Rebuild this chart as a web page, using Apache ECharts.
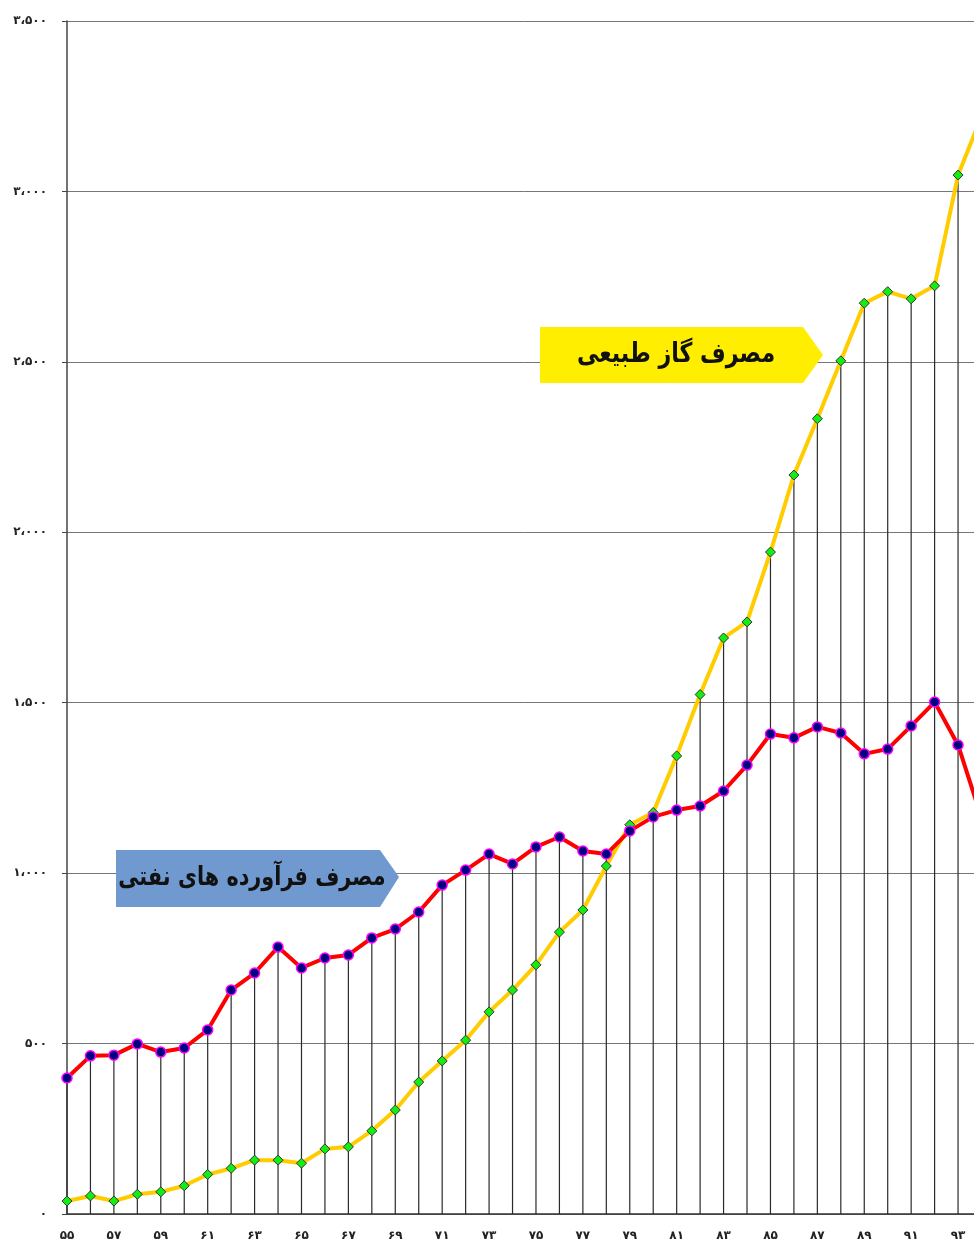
<!DOCTYPE html>
<html><head><meta charset="utf-8">
<script src="https://cdn.jsdelivr.net/npm/echarts@6/dist/echarts.min.js"></script>
<style>html,body{margin:0;padding:0;background:#fff;overflow:hidden;width:974px;height:1243px}#c{width:1000px;height:1243px}</style>
</head><body><div id="c"></div>
<script>
var years = [55,56,57,58,59,60,61,62,63,64,65,66,67,68,69,70,71,72,73,74,75,76,77,78,79,80,81,82,83,84,85,86,87,88,89,90,91,92,93,94];
var oilProducts = [399,464,466,499,475,487,540,657,707,783,722,751,760,810,836,886,965,1009,1056,1027,1077,1106,1065,1056,1124,1165,1185,1197,1241,1317,1408,1397,1429,1411,1350,1364,1432,1502,1376,1162];
var naturalGas = [38,53,38,58,65,83,116,134,158,158,149,191,197,244,305,387,449,510,593,657,731,827,892,1021,1142,1178,1344,1524,1690,1737,1942,2168,2333,2503,2672,2706,2685,2723,3048,3220];
var yTicks = [0,500,1000,1500,2000,2500,3000,3500];
var gasLabel = 'مصرف گاز طبیعی';
var oilLabel = 'مصرف فرآورده های نفتی';

var fa = ['۰','۱','۲','۳','۴','۵','۶','۷','۸','۹'];
function toFa(s){ return String(s).replace(/[0-9]/g, function(d){ return fa[+d]; }); }
function fmtY(v){
  var s = String(v);
  if (v >= 1000) s = s.slice(0, s.length-3) + '،' + s.slice(s.length-3);
  return toFa(s);
}
var dropData = years.map(function(y,i){ return [i, Math.max(oilProducts[i], naturalGas[i])]; });
var cats = years.map(String);

var chart = echarts.init(document.getElementById('c'), null, {renderer:'canvas'});
chart.setOption({
  animation:false,
  backgroundColor:'#fff',
  grid:{left:67, top:21, width:914.5, height:1193, containLabel:false},
  xAxis:{
    type:'category', data:cats, boundaryGap:false,
    axisLine:{lineStyle:{color:'#333', width:1.5}},
    axisTick:{show:false},
    splitLine:{show:false},
    axisLabel:{interval:1, margin:16, color:'#222', fontFamily:'DejaVu Sans', fontWeight:'bold', fontSize:12,
      formatter:function(v){ return toFa(v); }}
  },
  yAxis:{
    type:'value', min:0, max:3500, interval:500,
    axisLine:{show:true, lineStyle:{color:'#444', width:1.5}},
    axisTick:{show:true, length:5, lineStyle:{color:'#444'}},
    splitLine:{show:true, lineStyle:{color:'#777', width:1}},
    axisLabel:{margin:20, color:'#222', fontFamily:'DejaVu Sans', fontWeight:'bold', fontSize:12,
      formatter:function(v){ return fmtY(v); }}
  },
  series:[
    {
      type:'custom', z:1,
      data:dropData,
      renderItem:function(params, api){
        var top = api.coord([api.value(0), api.value(1)]);
        var bot = api.coord([api.value(0), 0]);
        return {type:'line', shape:{x1:top[0], y1:top[1], x2:bot[0], y2:bot[1]},
          style:{stroke:'#2a2a2a', lineWidth:1.2}};
      },
      encode:{x:0, y:1}
    },
    {
      type:'line', z:3, data:naturalGas,
      lineStyle:{color:'#ffcc00', width:4},
      symbol:'diamond', symbolSize:10,
      itemStyle:{color:'#11ee11', borderColor:'#333', borderWidth:1}
    },
    {
      type:'line', z:4, data:oilProducts,
      lineStyle:{color:'#ff0000', width:4},
      symbol:'circle', symbolSize:10,
      itemStyle:{color:'#000080', borderColor:'#ff00ff', borderWidth:1.5}
    }
  ],
  graphic:[
    {type:'polygon', z:10, shape:{points:[[540,327],[803,327],[823,355],[803,383],[540,383]]}, style:{fill:'#ffee00'}},
    {type:'text', z:11, x:676, y:355, scaleX:0.82, style:{text:gasLabel, fill:'#111', font:'bold 27px "DejaVu Sans"', align:'center', verticalAlign:'middle'}},
    {type:'polygon', z:10, shape:{points:[[116,850],[380,850],[399,877],[380,907],[116,907]]}, style:{fill:'#7099d0'}},
    {type:'text', z:11, x:252, y:878, scaleX:0.8, style:{text:oilLabel, fill:'#111', font:'bold 26px "DejaVu Sans"', align:'center', verticalAlign:'middle'}}
  ]
});
</script></body></html>
